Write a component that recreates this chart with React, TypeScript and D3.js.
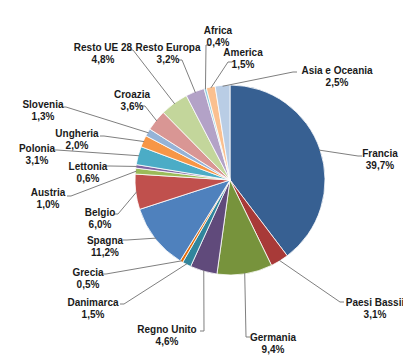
import { useEffect, useRef } from 'react';
import * as d3 from 'd3';

// Quote per paese (%), in senso orario dall'alto
const countries = [
    'Francia', 'Paesi Bassii', 'Germania', 'Regno Unito', 'Danimarca', 'Grecia',
    'Spagna', 'Belgio', 'Austria', 'Lettonia', 'Polonia', 'Ungheria', 'Slovenia',
    'Croazia', 'Resto UE 28', 'Resto Europa', 'Africa', 'America', 'Asia e Oceania',
];
const shares = [39.7, 3.1, 9.4, 4.6, 1.5, 0.5, 11.2, 6.0, 1.0, 0.6, 3.1, 2.0, 1.3, 3.6, 4.8, 3.2, 0.4, 1.5, 2.5];
const colors = [
    '#376092', '#A83A38', '#77933C', '#604A7B', '#31859C', '#E46C0A',
    '#4F81BD', '#C0504D', '#9BBB59', '#8064A2', '#4BACC6', '#F79646',
    '#95B3D7', '#D99694', '#C3D69B', '#B3A2C7', '#93CDDD', '#FAC090', '#B9CDE5',
];

// Posizione etichette (centro testo, gomito della linea guida)
const labelLayout: [number, number, number, number][] = [
    [380, 153, 358, 156], [375, 302, 340, 302], [273, 337, 246, 337], [167, 329, 204, 331],
    [93, 302, 124, 304], [88, 272, 106, 274], [105, 240, 127, 240], [100, 212, 118, 214],
    [48, 192, 71, 196], [88, 166, 110, 166], [37, 148, 57, 150], [77, 133, 104, 136],
    [43, 104, 66, 107], [132, 94, 145, 106], [103, 47, 133, 50], [168, 47, 182, 60],
    [218, 30, 206, 45], [243, 52, 228, 62], [337, 70, 293, 72],
];

const W = 403;
const H = 355;

export default function App() {
    const svgRef = useRef<SVGSVGElement>(null);

    useEffect(() => {
        if (!svgRef.current) return;
        const svg = d3.select(svgRef.current);
        svg.selectAll('*').remove();

        const cx = 230, cy = 180, r = 95;
        const data = countries.map((name, i) => ({ name, value: shares[i], color: colors[i] }));

        const pie = d3.pie<typeof data[0]>().value(d => d.value).sort(null);
        const arcs = pie(data);
        const arc = d3.arc<d3.PieArcDatum<typeof data[0]>>().innerRadius(0).outerRadius(r);

        const g = svg.append('g').attr('transform', `translate(${cx},${cy})`);
        g.selectAll('path.slice')
            .data(arcs)
            .enter()
            .append('path')
            .attr('class', 'slice')
            .attr('d', arc)
            .attr('fill', d => d.data.color)
            .attr('stroke', '#fff')
            .attr('stroke-width', 0.8);

        // Linee guida
        arcs.forEach((a, i) => {
            const [tx, , ex, ey] = labelLayout[i];
            const mid = (a.startAngle + a.endAngle) / 2;
            const sx = cx + r * 0.99 * Math.sin(mid);
            const sy = cy - r * 0.99 * Math.cos(mid);
            const stub = ex < tx ? 4 : -4;
            svg.append('path')
                .attr('d', `M${sx},${sy}L${ex},${ey}L${ex + stub},${ey}`)
                .attr('fill', 'none')
                .attr('stroke', '#7f7f7f')
                .attr('stroke-width', 1);
        });

        // Etichette
        arcs.forEach((a, i) => {
            const [tx, ty] = labelLayout[i];
            const t = svg.append('text')
                .attr('text-anchor', 'middle')
                .attr('font-family', '"Liberation Sans", Arial, sans-serif')
                .attr('font-size', 10)
                .attr('font-weight', 'bold')
                .attr('fill', '#1a1a1a');
            t.append('tspan').attr('x', tx).attr('y', ty + 3.5).text(a.data.name);
            t.append('tspan').attr('x', tx).attr('y', ty + 15.5)
                .text(d3.format('.1f')(a.data.value).replace('.', ',') + '%');
        });
    }, []);

    return (
        <svg
            ref={svgRef}
            width={W}
            height={H}
            style={{ position: 'absolute', left: 0, top: 0, background: '#fff' }}
        />
    );
}
